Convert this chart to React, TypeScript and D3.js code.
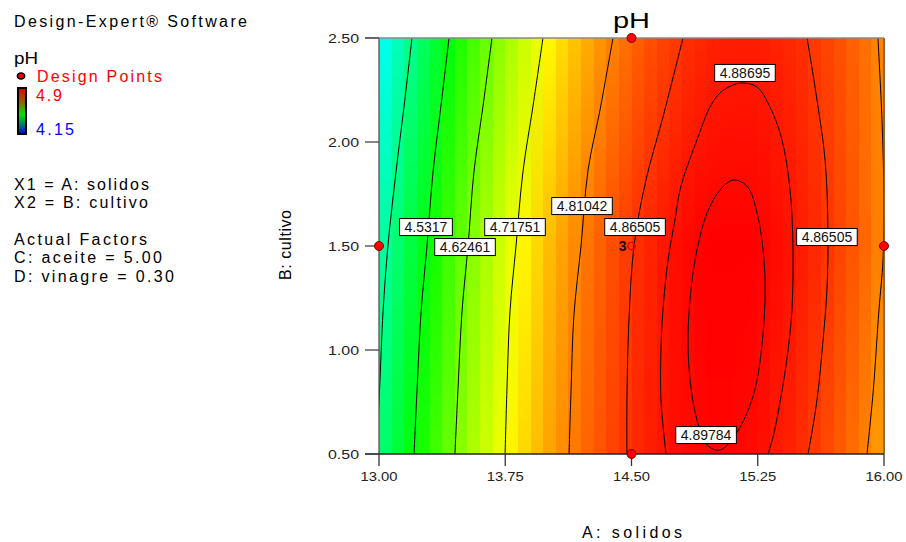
import React from "react";
import * as d3 from "d3";

// plot frame (px) inside the 906x542 page
const FRAME = { left: 379, right: 884, top: 38, bottom: 454 };
const FONT = "Arial, 'Liberation Sans', sans-serif";

// axis ticks
const xTicks = [13.0, 13.75, 14.5, 15.25, 16.0];
const yTicks = [0.5, 1.0, 1.5, 2.0, 2.5];

// pH read per grid column (A: solidos 13 -> 16), at B = 2.5, 1.5 and 0.5
const phTop = [4.364, 4.4, 4.434, 4.467, 4.499, 4.529, 4.559, 4.587, 4.613, 4.639, 4.663, 4.686, 4.707, 4.728, 4.747, 4.765, 4.781, 4.797, 4.811, 4.823, 4.835, 4.845, 4.854, 4.861, 4.868, 4.873, 4.877, 4.879, 4.88, 4.88, 4.879, 4.876, 4.873, 4.868, 4.861, 4.853, 4.845, 4.834, 4.823, 4.81];
const phMid = [4.422, 4.456, 4.49, 4.522, 4.552, 4.582, 4.61, 4.637, 4.662, 4.686, 4.709, 4.731, 4.751, 4.77, 4.788, 4.805, 4.82, 4.834, 4.846, 4.858, 4.868, 4.876, 4.884, 4.89, 4.895, 4.899, 4.901, 4.902, 4.902, 4.9, 4.897, 4.893, 4.888, 4.881, 4.873, 4.864, 4.853, 4.842, 4.828, 4.814];
const phBot = [4.463, 4.495, 4.527, 4.556, 4.585, 4.612, 4.639, 4.664, 4.687, 4.71, 4.731, 4.751, 4.769, 4.787, 4.803, 4.817, 4.831, 4.843, 4.854, 4.864, 4.873, 4.88, 4.886, 4.891, 4.894, 4.896, 4.897, 4.897, 4.896, 4.893, 4.889, 4.883, 4.877, 4.869, 4.86, 4.849, 4.838, 4.825, 4.811, 4.795];

// colour ramp stops used by the fill (blue -> cyan -> green -> yellow -> red)
const rampStops = [4.165, 4.35, 4.537, 4.724, 4.9];
const rampColors = ["#0000ff", "#00ffff", "#00ff00", "#ffff00", "#ff0000"];

// contour lines, [A, B] pairs
const c4388 = [[13.196, 2.5], [13.149, 2.173], [13.101, 1.856], [13.053, 1.5], [13.024, 1.183], [13.006, 0.856], [12.995, 0.66]];
const c4532 = [[13.416, 2.5], [13.368, 2.173], [13.321, 1.856], [13.285, 1.5], [13.25, 1.183], [13.226, 0.808], [13.208, 0.5]];
const c4625 = [[13.671, 2.5], [13.618, 2.173], [13.564, 1.856], [13.529, 1.5], [13.493, 1.183], [13.469, 0.808], [13.451, 0.5]];
const c4718 = [[13.974, 2.5], [13.915, 2.173], [13.855, 1.856], [13.814, 1.5], [13.778, 1.183], [13.76, 0.808], [13.749, 0.5]];
const c4810L = [[14.39, 2.5], [14.313, 2.154], [14.242, 1.865], [14.2, 1.5], [14.158, 1.168], [14.141, 0.808], [14.129, 0.5]];
const c4865L = [[14.806, 2.5], [14.687, 2.12], [14.586, 1.817], [14.515, 1.5], [14.485, 1.144], [14.473, 0.76], [14.473, 0.5]];
const c4865R = [[15.543, 2.5], [15.602, 2.202], [15.65, 1.913], [15.667, 1.577], [15.661, 1.288], [15.638, 1.048], [15.602, 0.76], [15.549, 0.5]];
const c4810R = [[15.964, 2.5], [15.988, 2.106], [16.0, 1.721], [15.994, 1.433], [15.97, 1.192], [15.935, 0.793], [15.899, 0.5]];
const c4887 = [[14.705, 0.5], [14.675, 0.76], [14.675, 1.0], [14.687, 1.192], [14.717, 1.433], [14.758, 1.625], [14.788, 1.769], [14.83, 1.88], [14.889, 2.01], [14.966, 2.168], [15.026, 2.236], [15.103, 2.274], [15.162, 2.284], [15.246, 2.264], [15.323, 2.168], [15.394, 2.01], [15.442, 1.769], [15.459, 1.495], [15.453, 1.192], [15.43, 1.0], [15.388, 0.774], [15.341, 0.582], [15.311, 0.5]];
const c4898 = [[15.103, 1.817], [15.186, 1.788], [15.246, 1.659], [15.287, 1.433], [15.293, 1.24], [15.275, 1.024], [15.24, 0.832], [15.186, 0.697], [15.115, 0.591], [15.026, 0.519], [14.949, 0.543], [14.889, 0.663], [14.848, 0.856], [14.836, 1.063], [14.853, 1.288], [14.889, 1.481], [14.949, 1.659], [15.026, 1.769]];

const contours = [
  { pts: c4388, closed: false },
  { pts: c4532, closed: false },
  { pts: c4625, closed: false },
  { pts: c4718, closed: false },
  { pts: c4810L, closed: false },
  { pts: c4865L, closed: false },
  { pts: c4865R, closed: false },
  { pts: c4810R, closed: false },
  { pts: c4887, closed: false },
  { pts: c4898, closed: true },
];

// contour labels: text and where they sit
const labelText = ["4.5317", "4.62461", "4.71751", "4.81042", "4.86505", "4.86505", "4.88695", "4.89784"];
const labelAt = [[13.279, 1.591], [13.511, 1.495], [13.808, 1.591], [14.206, 1.692], [14.521, 1.591], [15.661, 1.543], [15.174, 2.332], [14.943, 0.591]];

// design points
const designPts = [[13.0, 1.5], [14.5, 2.5], [14.5, 0.5], [16.0, 1.5]];
const centerPt = [14.5, 1.5];
const centerReps = "3";

const legendLines = [
  { text: "X1 = A: solidos", y: 190, w: 135 },
  { text: "X2 = B: cultivo", y: 208, w: 134 },
  { text: "Actual Factors", y: 245, w: 133 },
  { text: "C: aceite = 5.00", y: 263, w: 148 },
  { text: "D: vinagre = 0.30", y: 282, w: 160 },
];

export default function App() {
  const x = d3.scaleLinear().domain([13, 16]).range([FRAME.left, FRAME.right]);
  const y = d3.scaleLinear().domain([0.5, 2.5]).range([FRAME.bottom, FRAME.top]);
  const col = d3
    .scaleBand<number>()
    .domain(d3.range(phTop.length))
    .range([FRAME.left, FRAME.right]);
  const color = d3.scaleLinear<string>().domain(rampStops).range(rampColors).clamp(true);
  const fmt = d3.format(".2f");

  const line = d3
    .line<number[]>()
    .x((d) => x(d[0]))
    .y((d) => y(d[1]))
    .curve(d3.curveCatmullRom.alpha(0.5));
  const loop = d3
    .line<number[]>()
    .x((d) => x(d[0]))
    .y((d) => y(d[1]))
    .curve(d3.curveCatmullRomClosed.alpha(0.5));

  const plotH = y(0.5) - y(2.5);

  return (
    <svg
      width={906}
      height={542}
      style={{ position: "absolute", left: 0, top: 0, background: "#fff" }}
      fontFamily={FONT}
    >
      <defs>
        {phTop.map((_, i) => (
          <linearGradient key={i} id={`col${i}`} x1="0" y1="0" x2="0" y2="1">
            <stop offset="0" stopColor={color(phTop[i])} />
            <stop offset="0.5" stopColor={color(phMid[i])} />
            <stop offset="1" stopColor={color(phBot[i])} />
          </linearGradient>
        ))}
        <linearGradient id="legendBar" x1="0" y1="0" x2="0" y2="1">
          <stop offset="0" stopColor="#e80000" />
          <stop offset="0.28" stopColor="#9a5a00" />
          <stop offset="0.58" stopColor="#00e400" />
          <stop offset="0.82" stopColor="#00707a" />
          <stop offset="1" stopColor="#0000d0" />
        </linearGradient>
        <clipPath id="plotClip">
          <rect x={FRAME.left} y={FRAME.top} width={FRAME.right - FRAME.left} height={plotH} />
        </clipPath>
      </defs>

      {/* legend block */}
      <text x={14} y={27} fontSize={16} textLength={233} lengthAdjust="spacing">
        Design-Expert® Software
      </text>
      <text x={14} y={64} fontSize={16} textLength={24} lengthAdjust="spacingAndGlyphs">
        pH
      </text>
      <ellipse cx={21} cy={76} rx={3.6} ry={3} fill="#ff0000" stroke="#000" strokeWidth={1.6} />
      <text x={37} y={82} fontSize={16} fill="#ff0000" textLength={125} lengthAdjust="spacing">
        Design Points
      </text>
      <rect x={18} y={88} width={8} height={46} fill="url(#legendBar)" stroke="#000" strokeWidth={2} />
      <text x={36} y={101} fontSize={16} fill="#ff0000" textLength={26} lengthAdjust="spacing">
        4.9
      </text>
      <text x={36} y={135} fontSize={16} fill="#0000ff" textLength={38} lengthAdjust="spacing">
        4.15
      </text>
      {legendLines.map((l) => (
        <text key={l.text} x={14} y={l.y} fontSize={16} textLength={l.w} lengthAdjust="spacing">
          {l.text}
        </text>
      ))}

      {/* colour fill */}
      <g shapeRendering="crispEdges">
        {phTop.map((_, i) => (
          <rect
            key={i}
            x={col(i)}
            y={FRAME.top}
            width={col.bandwidth() + 0.6}
            height={plotH}
            fill={`url(#col${i})`}
          />
        ))}
      </g>

      {/* contours */}
      <g clipPath="url(#plotClip)" fill="none" stroke="#000" strokeWidth={1}>
        {contours.map((c, i) => (
          <path key={i} d={(c.closed ? loop : line)(c.pts) || ""} />
        ))}
      </g>

      {/* frame and axes */}
      <g stroke="#555" strokeWidth={1.3}>
        <line x1={FRAME.left} x2={FRAME.left} y1={FRAME.top} y2={FRAME.bottom} />
        <line x1={FRAME.right} x2={FRAME.right} y1={FRAME.top} y2={FRAME.bottom} />
        <line x1={FRAME.left - 14} x2={FRAME.right} y1={FRAME.top} y2={FRAME.top} stroke="#888" />
        <line x1={FRAME.left - 14} x2={FRAME.right} y1={FRAME.bottom} y2={FRAME.bottom} stroke="#222" />
      </g>
      {yTicks.map((t) => (
        <g key={t}>
          <line x1={FRAME.left - 14} x2={FRAME.left} y1={y(t)} y2={y(t)} stroke="#444" strokeWidth={1.3} />
          <text
            x={FRAME.left - 20}
            y={y(t) + 4.5}
            fontSize={12}
            textAnchor="end"
            fill="#222"
            textLength={31}
            lengthAdjust="spacingAndGlyphs"
          >
            {fmt(t)}
          </text>
        </g>
      ))}
      {xTicks.map((t) => (
        <g key={t}>
          <line x1={x(t)} x2={x(t)} y1={FRAME.bottom} y2={FRAME.bottom + 12} stroke="#333" strokeWidth={1.3} />
          <text
            x={x(t)}
            y={FRAME.bottom + 27}
            fontSize={12}
            textAnchor="middle"
            fill="#222"
            textLength={37}
            lengthAdjust="spacingAndGlyphs"
          >
            {fmt(t)}
          </text>
        </g>
      ))}

      {/* design points */}
      {designPts.map((p, i) => (
        <circle key={i} cx={x(p[0])} cy={y(p[1])} r={4.5} fill="#ff0000" stroke="#7a0000" strokeWidth={1} />
      ))}
      <circle cx={x(centerPt[0])} cy={y(centerPt[1])} r={3.6} fill="none" stroke="#e00000" strokeWidth={1.4} />
      <text
        x={x(centerPt[0]) - 5}
        y={y(centerPt[1]) + 5}
        fontSize={14}
        fontWeight="bold"
        textAnchor="end"
        fill="#200000"
      >
        {centerReps}
      </text>

      {/* contour labels */}
      {labelText.map((t, i) => {
        const w = 14 * 0.556 * (t.length - 1) + 14 * 0.278 + 10;
        const cx = x(labelAt[i][0]);
        const cy = y(labelAt[i][1]);
        return (
          <g key={i}>
            <rect x={cx - w / 2} y={cy - 8.5} width={w} height={17} fill="#fff" stroke="#000" strokeWidth={1} />
            <text x={cx} y={cy + 5} fontSize={14} textAnchor="middle" fill="#111">
              {t}
            </text>
          </g>
        );
      })}

      {/* titles */}
      <text x={631.5} y={28} fontSize={22} textAnchor="middle" textLength={37} lengthAdjust="spacingAndGlyphs">
        pH
      </text>
      <text x={632} y={538} fontSize={16} textAnchor="middle" textLength={100} lengthAdjust="spacing">
        A: solidos
      </text>
      <text
        transform="translate(291,245) rotate(-90)"
        fontSize={16}
        textAnchor="middle"
        textLength={70}
        lengthAdjust="spacing"
      >
        B: cultivo
      </text>
    </svg>
  );
}
